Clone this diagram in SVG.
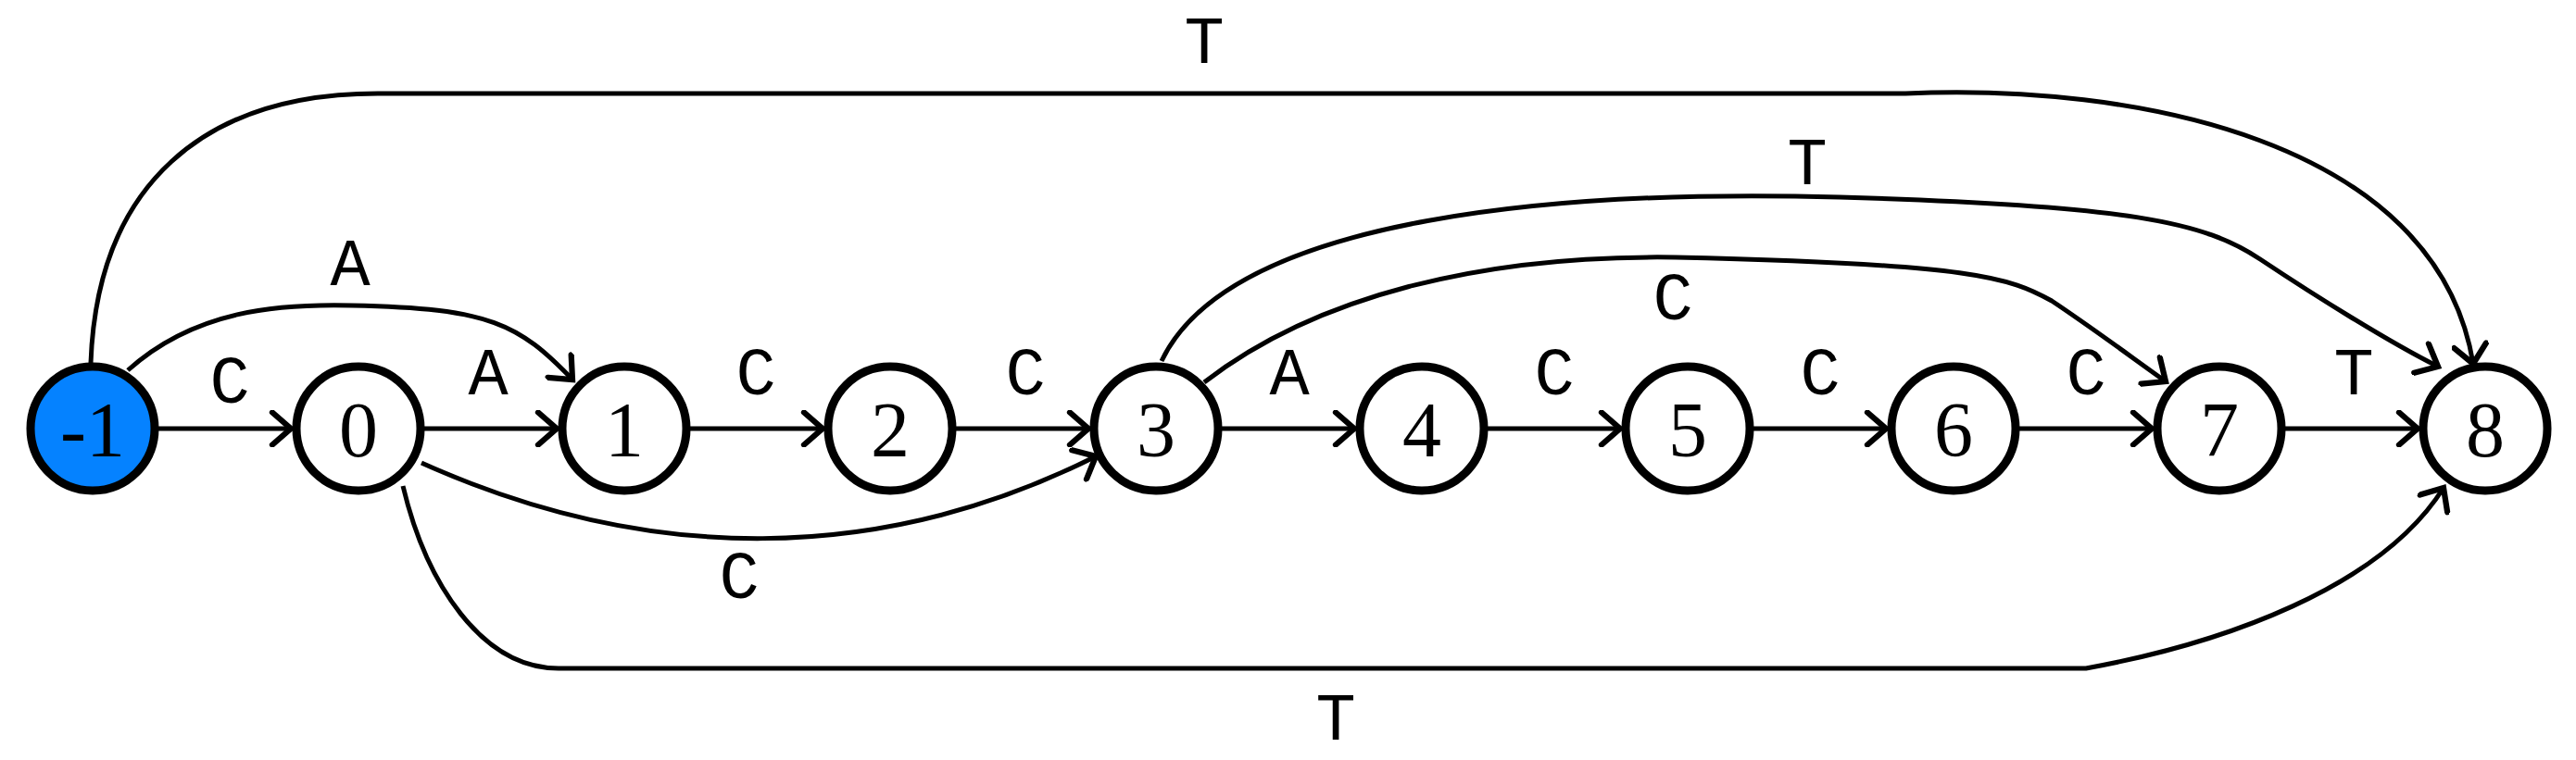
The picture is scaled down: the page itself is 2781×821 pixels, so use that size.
<svg xmlns="http://www.w3.org/2000/svg" width="2781" height="821" viewBox="0 0 2781 821">
<style>
.n{fill:#fff;stroke:#000;stroke-width:9}
.nt{font-family:"Liberation Serif",serif;font-size:84px;text-anchor:middle;fill:#000}
.e{fill:none;stroke:#000;stroke-width:5;marker-end:url(#ah)}
.l{font-family:"Liberation Mono",monospace;font-size:72px;text-anchor:middle;fill:#000}
</style>
<defs>
<marker id="ah" markerUnits="userSpaceOnUse" markerWidth="40" markerHeight="40" refX="24" refY="16" orient="auto" viewBox="0 0 32 32">
<path d="M8 2 L24 16 L8 30" fill="none" stroke="#000" stroke-width="5" stroke-linecap="round"/>
</marker>
</defs>
<g id="edges">
<path class="e" d="M98 392 C105 200 220 101 408 101 L2057 101 C2300 90 2630 150 2670 393"/>
<path class="e" d="M138 400 C210 335 300 328 380 330 C530 333 560 350 618 410"/>
<line class="e" x1="171" y1="463" x2="314" y2="463"/>
<line class="e" x1="458" y1="463" x2="601" y2="463"/>
<line class="e" x1="745" y1="463" x2="888" y2="463"/>
<line class="e" x1="1032" y1="463" x2="1175" y2="463"/>
<line class="e" x1="1319" y1="463" x2="1462" y2="463"/>
<line class="e" x1="1606" y1="463" x2="1749" y2="463"/>
<line class="e" x1="1893" y1="463" x2="2036" y2="463"/>
<line class="e" x1="2180" y1="463" x2="2323" y2="463"/>
<line class="e" x1="2467" y1="463" x2="2610" y2="463"/>
<path class="e" d="M455 500 C700 610 950 610 1183 493"/>
<path class="e" d="M435 525 C460 630 520 722 603 722 L2252 722 C2400 695 2570 635 2638 527"/>
<path class="e" d="M1254 390 C1330 230 1700 205 1986 213 C2300 222 2380 240 2440 280 C2500 320 2580 370 2632 396"/>
<path class="e" d="M1300 413 C1420 320 1600 275 1809 278 C2130 285 2170 300 2215 325 C2260 355 2300 385 2338 412"/>
<text class="l" x="1300" y="68">T</text>
<text class="l" x="378" y="308">A</text>
<text class="l" x="248" y="435">C</text>
<text class="l" x="527" y="426">A</text>
<text class="l" x="816" y="426">C</text>
<text class="l" x="1107" y="426">C</text>
<text class="l" x="1392" y="426">A</text>
<text class="l" x="1678" y="426">C</text>
<text class="l" x="1965" y="426">C</text>
<text class="l" x="2252" y="426">C</text>
<text class="l" x="2541" y="426">T</text>
<text class="l" x="798" y="646">C</text>
<text class="l" x="1442" y="799">T</text>
<text class="l" x="1951" y="199">T</text>
<text class="l" x="1806" y="345">C</text>
</g>
<g id="node-m1"><circle cx="100" cy="463" r="67" class="n" style="fill:#0582ff"/><text class="nt" x="100" y="493">-1</text></g>
<g id="node-0"><circle cx="387" cy="463" r="67" class="n"/><text class="nt" x="387" y="493">0</text></g>
<g id="node-1"><circle cx="674" cy="463" r="67" class="n"/><text class="nt" x="674" y="493">1</text></g>
<g id="node-2"><circle cx="961" cy="463" r="67" class="n"/><text class="nt" x="961" y="493">2</text></g>
<g id="node-3"><circle cx="1248" cy="463" r="67" class="n"/><text class="nt" x="1248" y="493">3</text></g>
<g id="node-4"><circle cx="1535" cy="463" r="67" class="n"/><text class="nt" x="1535" y="493">4</text></g>
<g id="node-5"><circle cx="1822" cy="463" r="67" class="n"/><text class="nt" x="1822" y="493">5</text></g>
<g id="node-6"><circle cx="2109" cy="463" r="67" class="n"/><text class="nt" x="2109" y="493">6</text></g>
<g id="node-7"><circle cx="2396" cy="463" r="67" class="n"/><text class="nt" x="2396" y="493">7</text></g>
<g id="node-8"><circle cx="2683" cy="463" r="67" class="n"/><text class="nt" x="2683" y="493">8</text></g>
</svg>
